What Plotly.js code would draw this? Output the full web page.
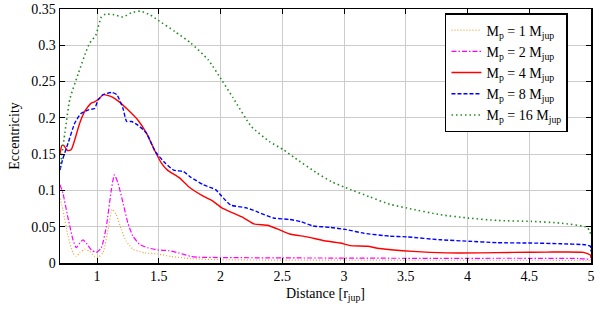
<!DOCTYPE html>
<html><head><meta charset="utf-8">
<script src="https://cdn.plot.ly/plotly-3.0.1.min.js"></script>
<style>html,body{margin:0;padding:0;background:#fff}#chart{width:600px;height:309px}</style>
</head><body><div id="chart"></div>
<script>
const seriesNames = ['M<sub>p</sub> = 1 M<sub>jup</sub>','M<sub>p</sub> = 2 M<sub>jup</sub>','M<sub>p</sub> = 4 M<sub>jup</sub>','M<sub>p</sub> = 8 M<sub>jup</sub>','M<sub>p</sub> = 16 M<sub>jup</sub>'];

const x1 = [0.70,0.724,0.765,0.805,0.832,0.86,0.90,0.94,0.98,1.008,1.048,1.089,1.124,1.156,1.197,1.237,1.292,1.386,1.494,1.60,1.76,2.0,2.5,3.0,3.5,4.0,4.5,4.9,5.0];
const y1 = [0.089,0.073,0.037,0.014,0.009,0.014,0.019,0.016,0.009,0.0077,0.014,0.046,0.074,0.0665,0.046,0.030,0.019,0.014,0.0124,0.009,0.006,0.0045,0.004,0.004,0.0038,0.0038,0.0038,0.0036,0.003];

const x2 = [0.70,0.724,0.765,0.805,0.832,0.86,0.886,0.913,0.954,0.994,1.035,1.075,1.116,1.14,1.17,1.21,1.25,1.29,1.35,1.41,1.49,1.58,1.66,1.76,1.82,2.0,2.5,3.0,3.5,4.0,4.5,4.9,5.0];
const y2 = [0.108,0.096,0.062,0.032,0.021,0.0275,0.032,0.0275,0.018,0.0146,0.021,0.050,0.101,0.1215,0.110,0.083,0.055,0.037,0.025,0.021,0.018,0.017,0.014,0.009,0.008,0.0075,0.007,0.0068,0.0065,0.0065,0.0065,0.0062,0.005];

const x4 = [0.70,0.715,0.73,0.76,0.79,0.82,0.86,0.90,0.95,0.98,1.02,1.05,1.12,1.18,1.25,1.33,1.40,1.47,1.52,1.57,1.67,1.75,1.86,1.94,2.01,2.10,2.19,2.27,2.38,2.46,2.56,2.70,2.83,2.97,3.05,3.19,3.29,3.56,3.83,4.10,4.37,4.64,4.94,4.995,5.0];
const y4 = [0.150,0.162,0.162,0.155,0.156,0.170,0.193,0.209,0.220,0.222,0.227,0.232,0.229,0.222,0.211,0.197,0.179,0.154,0.138,0.128,0.117,0.104,0.092,0.085,0.076,0.069,0.062,0.054,0.052,0.047,0.040,0.036,0.031,0.0275,0.024,0.023,0.020,0.016,0.014,0.014,0.0146,0.015,0.0146,0.011,0.007];

const x8 = [0.70,0.72,0.765,0.82,0.87,0.93,0.98,1.01,1.05,1.12,1.16,1.21,1.24,1.28,1.33,1.40,1.47,1.55,1.62,1.70,1.76,1.86,1.96,2.01,2.08,2.21,2.29,2.43,2.56,2.65,2.75,2.89,3.02,3.16,3.37,3.51,3.78,4.01,4.24,4.52,4.75,4.96,4.995,5.0];
const y8 = [0.128,0.142,0.165,0.193,0.206,0.211,0.213,0.225,0.232,0.235,0.232,0.213,0.195,0.195,0.190,0.179,0.154,0.138,0.128,0.126,0.118,0.108,0.101,0.092,0.080,0.076,0.071,0.062,0.060,0.057,0.051,0.049,0.046,0.041,0.037,0.036,0.032,0.030,0.028,0.0275,0.0266,0.025,0.023,0.016];

const x16 = [0.70,0.74,0.78,0.85,0.91,0.94,0.99,1.035,1.07,1.14,1.21,1.28,1.35,1.43,1.49,1.63,1.76,1.90,2.01,2.10,2.25,2.40,2.51,2.60,2.78,2.90,3.01,3.21,3.37,3.51,3.78,4.01,4.24,4.52,4.75,4.97,5.0];
const y16 = [0.130,0.18,0.226,0.262,0.291,0.303,0.314,0.339,0.343,0.342,0.339,0.345,0.347,0.342,0.335,0.319,0.303,0.280,0.252,0.228,0.188,0.167,0.156,0.145,0.124,0.112,0.104,0.091,0.081,0.0757,0.0665,0.0619,0.0586,0.0573,0.055,0.049,0.039];

const xVals = [x1,x2,x4,x8,x16];
const yVals = [y1,y2,y4,y8,y16];
const colors = ['#f0a030','#ff00ff','#ff0000','#0000ff','#228b22'];
const dashes = ['1px,2px','5px,2px,1.5px,2px','solid','4px,2px','1.5px,3px'];
const widths = [1.2,1.2,1.4,1.4,1.6];

const traces = xVals.map((xs,i)=>({
  x: xs, y: yVals[i], type:'scatter', mode:'lines', name: seriesNames[i],
  line:{color:colors[i], dash:dashes[i], width:widths[i], shape:'spline', smoothing:0.5}
}));

const font = 'Liberation Serif';
const axisCommon = {
  showline:true, mirror:'ticks', linecolor:'#000', linewidth:1.5,
  ticks:'inside', ticklen:5, tickcolor:'#000', tickwidth:1,
  showgrid:true, gridcolor:'#cccccc', gridwidth:1, zeroline:false,
  tickfont:{family:font, size:14, color:'#000'}
};
const layout = {
  width:600, height:309,
  margin:{l:60, r:9, t:9, b:46},
  paper_bgcolor:'#fff', plot_bgcolor:'#fff',
  font:{family:font, color:'#000'},
  showlegend:true,
  legend:{x:0.725, y:0.984, xanchor:'left', yanchor:'top', bgcolor:'#fff', bordercolor:'#000', borderwidth:1.5,
    font:{family:font, size:14, color:'#000'}, tracegroupgap:0},
  xaxis: Object.assign({}, axisCommon, {range:[0.7,5], tickvals:[1,1.5,2,2.5,3,3.5,4,4.5,5], ticktext:['1','1.5','2','2.5','3','3.5','4','4.5','5'],
    title:{text:'Distance [r<sub>jup</sub>]', font:{family:font, size:14, color:'#000'}, standoff:5}}),
  yaxis: Object.assign({}, axisCommon, {range:[0,0.35], tickvals:[0,0.05,0.1,0.15,0.2,0.25,0.3,0.35], ticktext:['0','0.05','0.1','0.15','0.2','0.25','0.3','0.35'],
    title:{text:'Eccentricity', font:{family:font, size:14, color:'#000'}, standoff:8}})
};
Plotly.newPlot('chart', traces, layout, {staticPlot:true, displayModeBar:false});
</script></body></html>
